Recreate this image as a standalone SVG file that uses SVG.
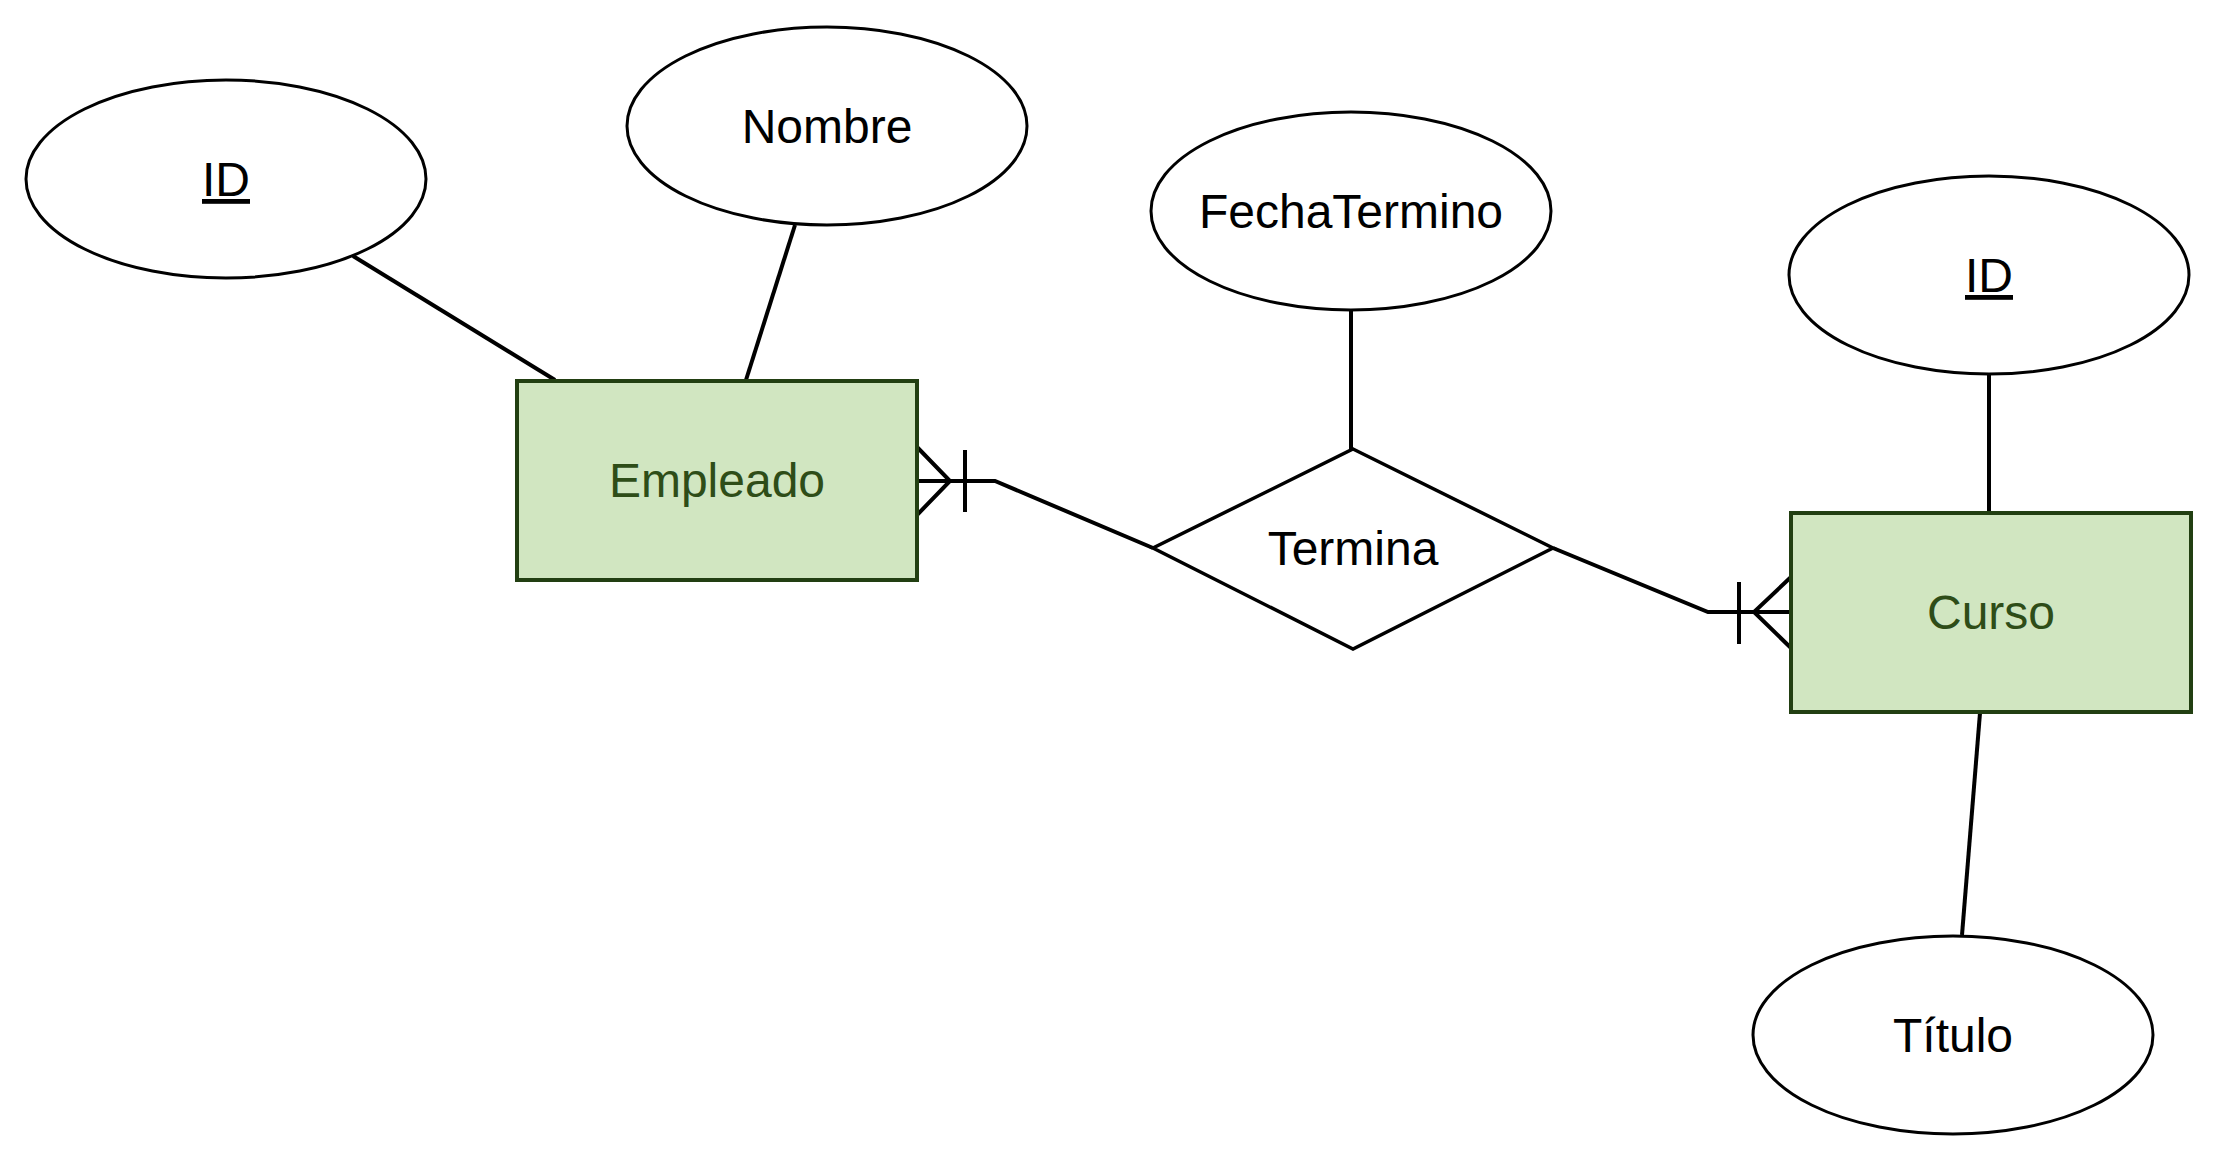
<svg xmlns="http://www.w3.org/2000/svg" width="2218" height="1164" viewBox="0 0 2218 1164">
<style>
.attr{fill:#ffffff;stroke:#000000;stroke-width:3}
.ent{fill:#d1e6c1;stroke:#223f12;stroke-width:4}
.rel{fill:#ffffff;stroke:#000000;stroke-width:3.5}
.lbl{font-family:"Liberation Sans",Arial,sans-serif;font-size:48px;text-anchor:middle;fill:#000000}
.elbl{fill:#2e4d18}
.key{text-decoration:underline}
.edge{fill:none;stroke:#000000;stroke-width:4}
</style>
<rect width="2218" height="1164" fill="#ffffff"/>
<g id="connectors">
<line class="edge" x1="353" y1="256" x2="555" y2="380"/>
<line class="edge" x1="795" y1="225" x2="746" y2="380"/>
<line class="edge" x1="1351" y1="311" x2="1351" y2="449"/>
<line class="edge" x1="1989" y1="375" x2="1989" y2="512"/>
<line class="edge" x1="1980" y1="713" x2="1962" y2="935"/>
<path class="edge" d="M1153,548 L995,481 L917,481"/>
<path class="edge" d="M917,447 L950,481 L917,515 M965,450 L965,512"/>
<path class="edge" d="M1553,548 L1708,612 L1791,612"/>
<path class="edge" d="M1791,577 L1754,612 L1791,648 M1739,582 L1739,644"/>
</g>
<g id="attr-id-empleado">
<ellipse class="attr" cx="226" cy="179" rx="200" ry="99"/>
<text class="lbl key" x="226" y="196">ID</text>
</g>
<g id="attr-nombre">
<ellipse class="attr" cx="827" cy="126" rx="200" ry="99"/>
<text class="lbl" x="827" y="143">Nombre</text>
</g>
<g id="entity-empleado">
<rect class="ent" x="517" y="381" width="400" height="199"/>
<text class="lbl elbl" x="717" y="497">Empleado</text>
</g>
<g id="attr-fechatermino">
<ellipse class="attr" cx="1351" cy="211" rx="200" ry="99"/>
<text class="lbl" x="1351" y="228">FechaTermino</text>
</g>
<g id="rel-termina">
<polygon class="rel" points="1353,449 1553,548 1353,649 1153,548"/>
<text class="lbl" x="1353" y="565">Termina</text>
</g>
<g id="attr-id-curso">
<ellipse class="attr" cx="1989" cy="275" rx="200" ry="99"/>
<text class="lbl key" x="1989" y="292">ID</text>
</g>
<g id="entity-curso">
<rect class="ent" x="1791" y="513" width="400" height="199"/>
<text class="lbl elbl" x="1991" y="629">Curso</text>
</g>
<g id="attr-titulo">
<ellipse class="attr" cx="1953" cy="1035" rx="200" ry="99"/>
<text class="lbl" x="1953" y="1052">Título</text>
</g>
</svg>
